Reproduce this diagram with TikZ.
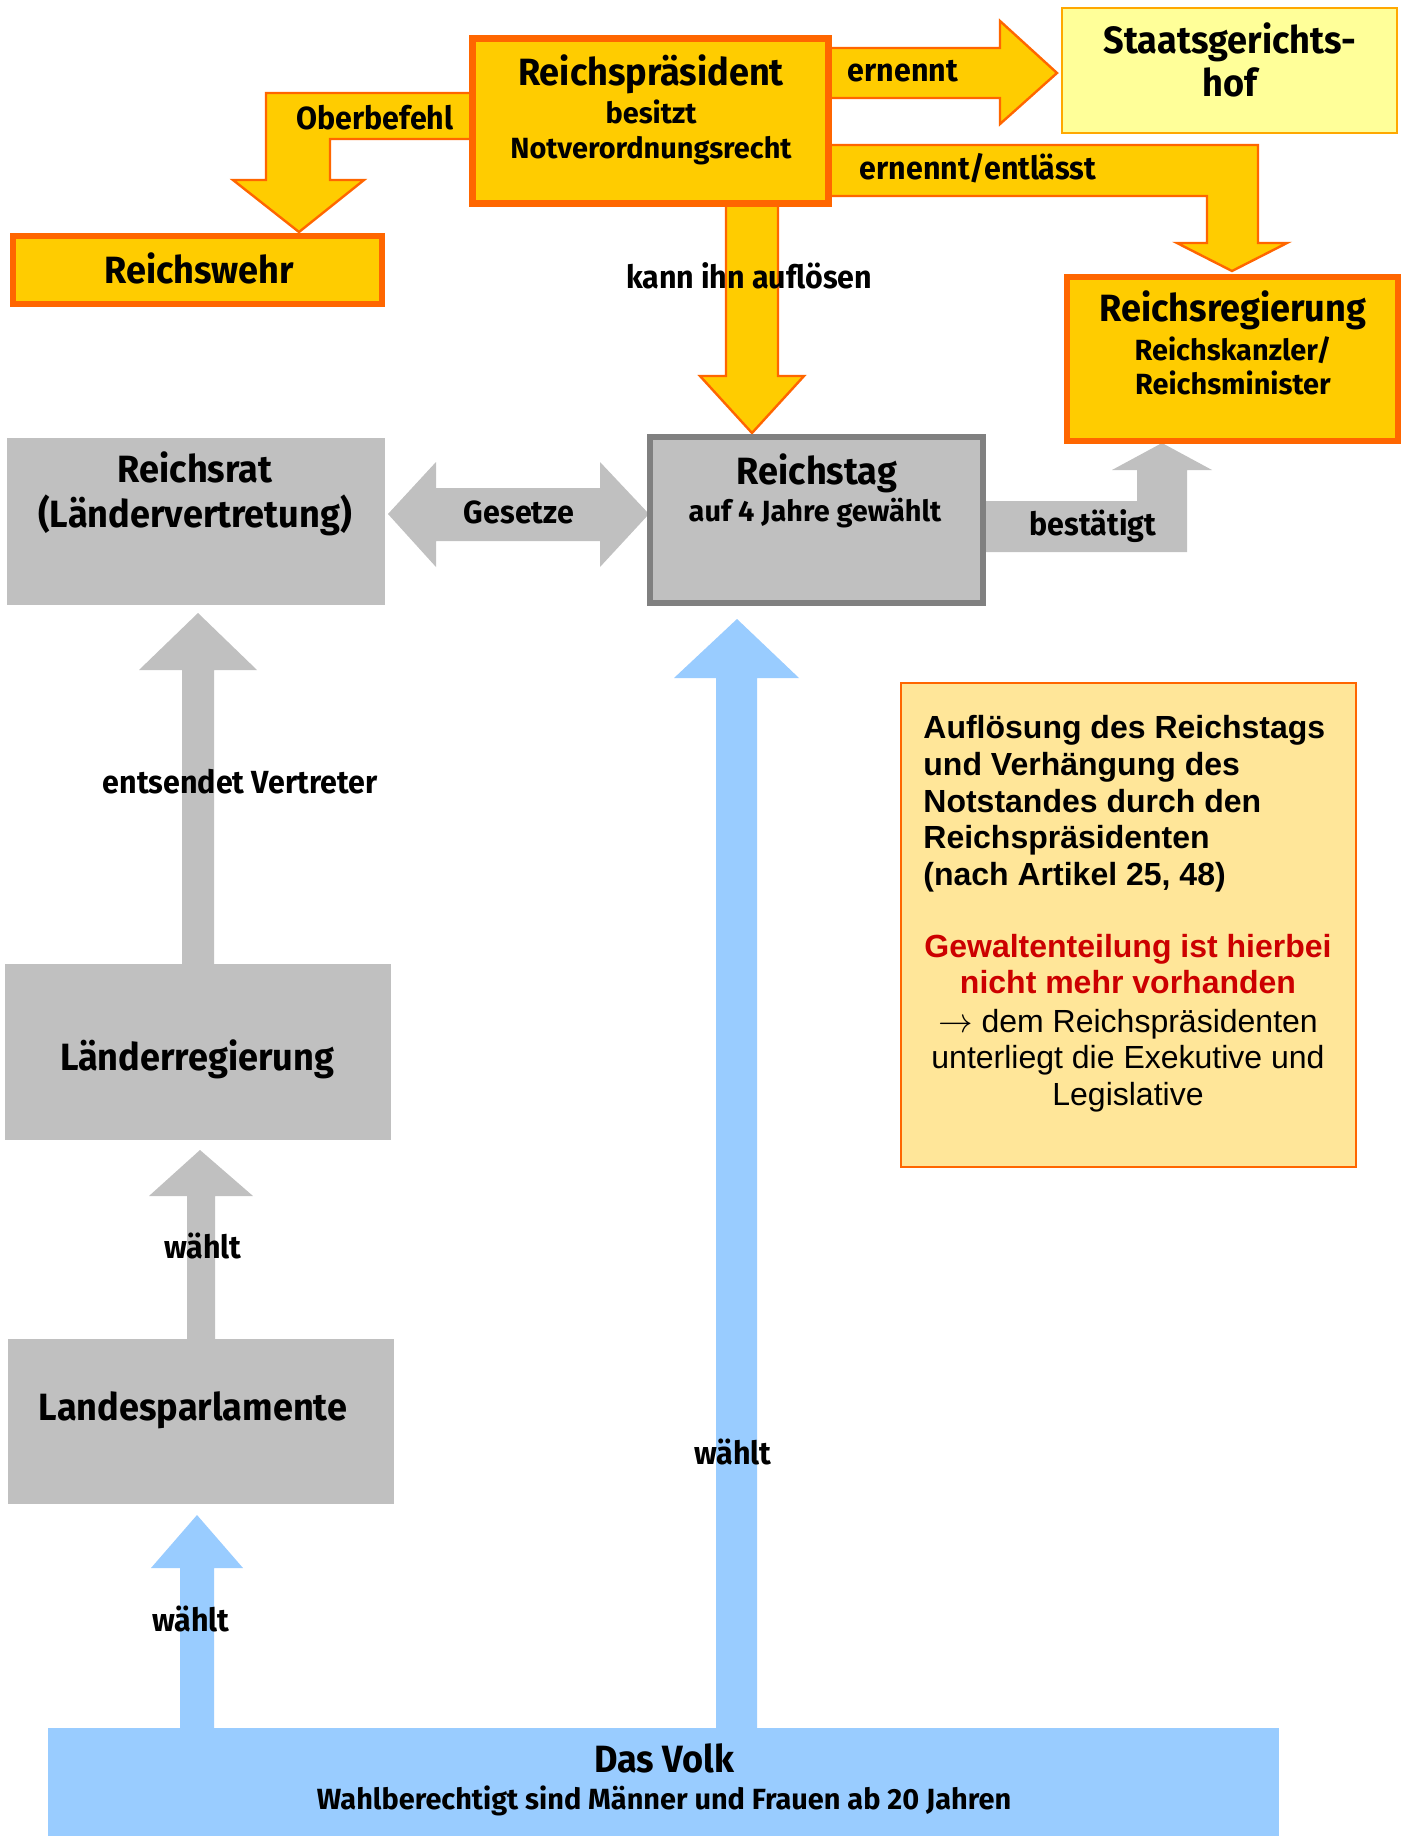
\documentclass[tikz,border=0pt]{standalone}
\usepackage{fontspec}
\setmainfont{Liberation Sans}
\newfontfamily\cond{Fira Sans}[FakeStretch=0.95]
\newfontfamily\condS{Fira Sans}[FakeStretch=0.99]
\definecolor{orng}{HTML}{FF6600}
\definecolor{yel}{HTML}{FFCC00}
\definecolor{lyel}{HTML}{FFFF99}
\definecolor{ambr}{HTML}{FFA800}
\definecolor{gry}{HTML}{C0C0C0}
\definecolor{dgry}{HTML}{808080}
\definecolor{blu}{HTML}{99CCFF}
\definecolor{infofill}{HTML}{FFE699}
\definecolor{rd}{HTML}{CC0000}
\tikzset{
  ybox/.style={draw=orng, fill=yel, line width=3.2pt},
  yarrow/.style={draw=orng, fill=yel, line width=1.2pt, line join=miter},
  ttl/.style={font=\cond\bfseries\fontsize{19}{22}\selectfont, anchor=base, inner sep=0pt},
  lbl/.style={font=\cond\bfseries\fontsize{16}{19}\selectfont, anchor=base, inner sep=0pt},
  sub/.style={font=\condS\bfseries\fontsize{14.6}{17}\selectfont, anchor=base, inner sep=0pt},
  info/.style={font=\bfseries\fontsize{16}{18}\selectfont, anchor=base west, inner sep=0pt},
  infoc/.style={font=\fontsize{16}{18}\selectfont, anchor=base, inner sep=0pt},
  infor/.style={font=\bfseries\fontsize{16}{18}\selectfont, text=rd, anchor=base, inner sep=0pt},
}
\begin{document}
\begin{tikzpicture}[x=0.5pt,y=-0.5pt]
\useasboundingbox (0,0) rectangle (1409,1836);
\fill[white] (0,0) rectangle (1409,1836);

% ---- arrows (drawn below boxes)
% Oberbefehl
\draw[yarrow] (475,93) -- (266,93) -- (266,180) -- (233,180) -- (299,232) -- (364,180) -- (330,180) -- (330,139) -- (475,139);
% ernennt
\draw[yarrow] (826,48) -- (1000,48) -- (1000,21) -- (1057,73) -- (1000,124) -- (1000,98) -- (826,98);
% ernennt/entlaesst
\draw[yarrow] (826,145) -- (1258,145) -- (1258,243) -- (1287,243) -- (1232,271) -- (1177,243) -- (1207,243) -- (1207,196) -- (826,196);
% kann ihn aufloesen
\draw[yarrow] (726,200) -- (726,376) -- (700,376) -- (752,433) -- (804,376) -- (778,376) -- (778,200);
% Gesetze
\fill[gry] (388,514) -- (436,462) -- (436,488) -- (600,488) -- (600,462) -- (649,514) -- (600,567) -- (600,541) -- (436,541) -- (436,567) -- cycle;
% bestaetigt
\fill[gry] (980,501) -- (1137,501) -- (1137,470) -- (1112,470) -- (1162,443) -- (1212,470) -- (1187,470) -- (1187,552) -- (980,552) -- cycle;
% entsendet Vertreter
\fill[gry] (182,968) -- (182,670) -- (139,670) -- (198,613) -- (257,670) -- (214,670) -- (214,968) -- cycle;
% waehlt (grey)
\fill[gry] (187,1342) -- (187,1196) -- (149,1196) -- (200,1150) -- (253,1196) -- (215,1196) -- (215,1342) -- cycle;
% waehlt (blue, small)
\fill[blu] (180,1732) -- (180,1568) -- (151,1568) -- (197,1515) -- (243,1568) -- (214,1568) -- (214,1732) -- cycle;
% waehlt (blue, big)
\fill[blu] (716,1732) -- (716,678) -- (674,678) -- (737,619) -- (799,678) -- (757,678) -- (757,1732) -- cycle;

% ---- boxes
\draw[ybox] (472.5,38.5) rectangle (828.5,203.5);
\draw[ybox] (13,236) rectangle (382,304);
\draw[draw=ambr, fill=lyel, line width=1pt] (1062,8) rectangle (1397,133);
\draw[ybox] (1067,277) rectangle (1398,441);
\fill[gry] (7,438) rectangle (385,605);
\draw[draw=dgry, fill=gry, line width=3pt] (650,437) rectangle (983,603);
\draw[draw=orng, fill=infofill, line width=1pt] (901,683) rectangle (1356,1167);
\fill[gry] (5,964) rectangle (391,1140);
\fill[gry] (8,1339) rectangle (394,1504);
\fill[blu] (48,1728) rectangle (1279,1836);

% ---- texts
\node[ttl] (t1) at (651,85) {Reichspräsident};
\node[sub] (t2) at (651,123) {besitzt};
\node[sub] (t3) at (651,158) {Notverordnungsrecht};
\node[lbl] (l1) at (375,129) {Oberbefehl};
\node[ttl] (t4) at (199,283) {Reichswehr};
\node[lbl] (l2) at (749,288) {kann ihn auflösen};
\node[lbl] (l3) at (903,81) {ernennt};
\node[lbl] (l4) at (978,179) {ernennt/entlässt};
\node[ttl] (t5) at (1230,54) {Staatsgerichts-};
\node[ttl] (t6) at (1230,96) {hof};
\node[ttl] (t7) at (1233,321) {Reichsregierung};
\node[sub] (t8) at (1233,360) {Reichskanzler/};
\node[sub] (t9) at (1233,394) {Reichsminister};
\node[lbl] (l5) at (1093,535) {bestätigt};
\node[ttl] (t10) at (195,482) {Reichsrat};
\node[ttl] (t11) at (195,527) {(Ländervertretung)};
\node[lbl] (l6) at (519,523) {Gesetze};
\node[ttl] (t12) at (817,484) {Reichstag};
\node[sub] (t13) at (815,521) {auf 4 Jahre gewählt};
\node[lbl] (l7) at (240,793) {entsendet Vertreter};
\node[ttl] (t14) at (197,1070) {Länderregierung};
\node[lbl] (l8) at (203,1258) {wählt};
\node[ttl] (t15) at (193,1420) {Landesparlamente};
\node[lbl] (l9) at (733,1464) {wählt};
\node[lbl] (l10) at (191,1631) {wählt};
\node[ttl] (t16) at (664,1772) {Das Volk};
\node[sub] (t17) at (664,1809) {Wahlberechtigt sind Männer und Frauen ab 20 Jahren};

% info box
\node[info] (i1) at (923,738) {Auflösung des Reichstags};
\node[info] (i2) at (923,775) {und Verhängung des};
\node[info] (i3) at (923,812) {Notstandes durch den};
\node[info] (i4) at (923,848) {Reichspräsidenten};
\node[info] (i5) at (923,885) {(nach Artikel 25, 48)};
\node[infor] (i6) at (1128,957) {Gewaltenteilung ist hierbei};
\node[infor] (i7) at (1128,993) {nicht mehr vorhanden};
\node[infoc] (i8) at (1128,1032) {$\rightarrow$ dem Reichspräsidenten};
\node[infoc] (i9) at (1128,1068) {unterliegt die Exekutive und};
\node[infoc] (i10) at (1128,1105) {Legislative};
\end{tikzpicture}
\end{document}
